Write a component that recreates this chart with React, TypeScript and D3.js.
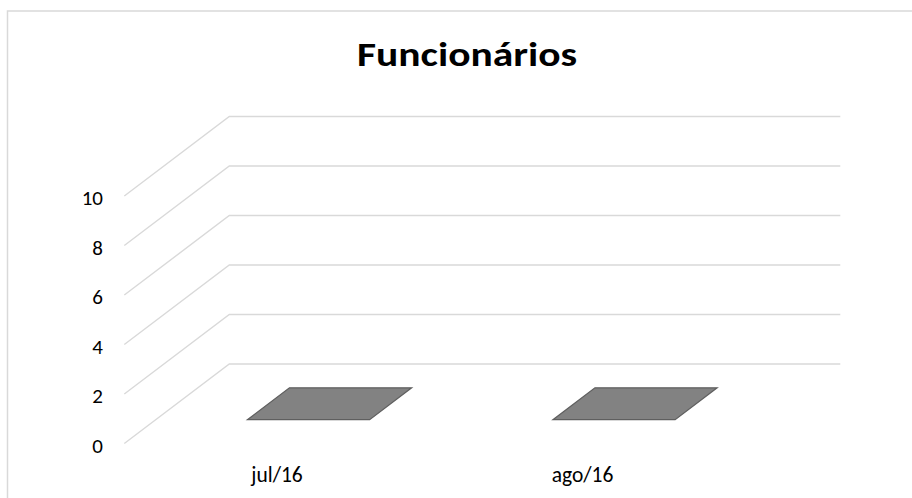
import React from "react";
import * as d3 from "d3";

const categories = ["jul/16", "ago/16"];
const values = [0, 0];
const yTicks = [0, 2, 4, 6, 8, 10];
const title = "Funcionários";

const W = 912;
const H = 498;
const FONT = "Calibri, Carlito, Lato, 'Open Sans', sans-serif";

export default function App() {
  const frontLeft = 124.3;
  const frontRight = 735.3;
  const depthDx = 105;
  const depthDy = -79.5;
  const x = d3.scaleBand<string>().domain(categories).range([frontLeft, frontRight]).paddingInner(0).paddingOuter(0);
  const y = d3.scaleLinear().domain([0, 10]).range([443.5, 196]);

  const barFrac = 0.4;
  const zFront = 0.3;
  const zBack = 0.7;
  const off = (z: number) => [z * depthDx, z * depthDy];

  const grid = "#d9d9d9";

  return (
    <svg width={W} height={H} style={{ position: "absolute", left: 0, top: 0, background: "#fff" }}>
      <rect x={0} y={0} width={W} height={H} fill="#fff" />
      <rect x={7.5} y={11} width={W + 20} height={H + 20} fill="none" stroke={grid} strokeWidth={1.5} />
      <text
        x={467}
        y={66}
        textAnchor="middle"
        fontFamily={FONT}
        fontWeight="bold"
        fontSize={35}
        textLength={220}
        lengthAdjust="spacingAndGlyphs"
        fill="#000"
      >
        {title}
      </text>
      {yTicks.map((t) => {
        const yf = y(t);
        return (
          <g key={t}>
            <path
              d={`M${frontLeft},${yf}L${frontLeft + depthDx},${yf + depthDy}L${frontRight + depthDx},${yf + depthDy}`}
              fill="none"
              stroke={grid}
              strokeWidth={1.4}
            />
            <text
              x={103}
              y={yf + 2}
              dy="0.35em"
              textAnchor="end"
              fontFamily={FONT}
              fontSize={21}
              fill="#000"
            >
              {t}
            </text>
          </g>
        );
      })}
      {categories.map((c, i) => {
        const bw = x.bandwidth() * barFrac;
        const x0 = (x(c) as number) + (x.bandwidth() - bw) / 2;
        const x1 = x0 + bw;
        const yb = y(0);
        const yt = y(values[i]);
        const [fdx, fdy] = off(zFront);
        const [bdx, bdy] = off(zBack);
        const top = `M${x0 + fdx},${yt + fdy}L${x1 + fdx},${yt + fdy}L${x1 + bdx},${yt + bdy}L${x0 + bdx},${yt + bdy}Z`;
        const front = `M${x0 + fdx},${yb + fdy}L${x1 + fdx},${yb + fdy}L${x1 + fdx},${yt + fdy}L${x0 + fdx},${yt + fdy}Z`;
        const side = `M${x1 + fdx},${yb + fdy}L${x1 + bdx},${yb + bdy}L${x1 + bdx},${yt + bdy}L${x1 + fdx},${yt + fdy}Z`;
        const h = yb - yt;
        return (
          <g key={c}>
            {h > 0 && <path d={front} fill="#7f7f7f" stroke="#5f5f5f" strokeWidth={1} />}
            {h > 0 && <path d={side} fill="#6a6a6a" stroke="#5f5f5f" strokeWidth={1} />}
            <path d={top} fill="#828282" stroke="#5f5f5f" strokeWidth={1.2} />
          </g>
        );
      })}
      {categories.map((c) => (
        <text
          key={c}
          x={(x(c) as number) + x.bandwidth() / 2}
          y={481.5}
          textAnchor="middle"
          fontFamily={FONT}
          fontSize={21.5}
          fill="#000"
        >
          {c}
        </text>
      ))}
    </svg>
  );
}
